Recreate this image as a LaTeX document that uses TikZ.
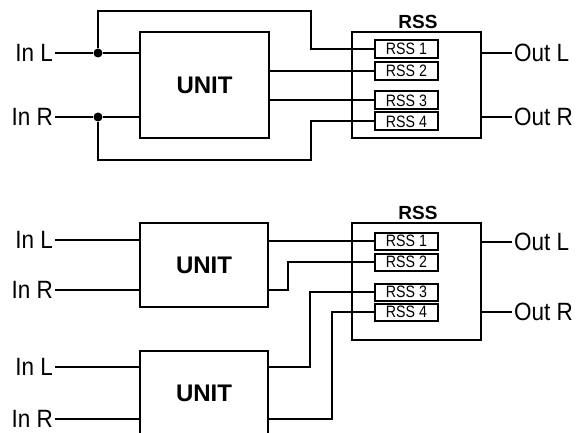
\documentclass[tikz,border=0pt]{standalone}
\usepackage{fontspec}
\setmainfont{Liberation Sans}
\begin{document}
\begin{tikzpicture}[x=1pt,y=-1pt,
  wire/.style={line width=2pt},
  unitbox/.style={draw,line width=2.6pt,rectangle,minimum width=128pt,inner sep=0pt,font=\bfseries\fontsize{24}{24}\selectfont},
  rssbox/.style={draw,line width=2.8pt,rectangle,minimum width=129pt,inner sep=0pt},
  subbox/.style={draw,line width=2pt,rectangle,minimum width=63pt,inner sep=0pt},
  inlbl/.style={anchor=east,inner sep=2pt},
  outlbl/.style={anchor=west,inner sep=2pt},
  rsslbl/.style={font=\bfseries\fontsize{19}{19}\selectfont,inner sep=0pt},
  dot/.style={circle,fill,inner sep=0pt,minimum size=9pt}]
\newcommand{\lbl}[1]{\scalebox{0.9}[1]{\fontsize{25}{25}\selectfont #1}}
\newcommand{\slbl}[1]{\scalebox{0.86}[1]{\fontsize{16.5}{16.5}\selectfont #1}}
\useasboundingbox (0,0) rectangle (578,433);
\clip (0,0) rectangle (578,433);

% ---------- top diagram ----------
\node[unitbox,minimum width=129pt,minimum height=106pt] (ua) at (204.5,85) {UNIT};
\node[rssbox,minimum height=106pt] (ra) at (416.5,85) {};
\node[rsslbl] (ralbl) at (418,22) {RSS};
\node[subbox,minimum height=18pt] (a1) at (406.5,49) {\slbl{RSS 1}};
\node[subbox,minimum height=18pt] (a2) at (406.5,71) {\slbl{RSS 2}};
\node[subbox,minimum height=18pt] (a3) at (406.5,100.5) {\slbl{RSS 3}};
\node[subbox,minimum height=18pt] (a4) at (406.5,121.5) {\slbl{RSS 4}};

\node[inlbl] (ail) at (55,53) {\lbl{In L}};
\node[inlbl] (air) at (55,117) {\lbl{In R}};
\node[dot] (dl) at (98,53) {};
\node[dot] (dr) at (98,117) {};
\coordinate (tl) at (98,11);
\coordinate (tr) at (311,11);
\coordinate (bl) at (98,160);
\coordinate (br) at (311,160);

\draw[wire] (ail.east) -- (dl) -- (ua.west |- dl);
\draw[wire] (air.east) -- (dr) -- (ua.west |- dr);
\draw[wire] (dl) -- (tl) -- (tr) -- (tr |- a1.west) -- (a1.west);
\draw[wire] (dr) -- (bl) -- (br) -- (br |- a4.west) -- (a4.west);
\draw[wire] (ua.east |- a2.west) -- (a2.west);
\draw[wire] (ua.east |- a3.west) -- (a3.west);

\node[outlbl] (aol) at (512,53) {\lbl{Out L}};
\node[outlbl] (aor) at (512,117) {\lbl{Out R}};
\draw[wire] (ra.east |- aol.west) -- (aol.west);
\draw[wire] (ra.east |- aor.west) -- (aor.west);

% ---------- bottom diagram ----------
\node[unitbox,minimum height=84pt] (ub) at (204,265) {UNIT};
\node[unitbox,minimum height=84pt] (uc) at (204,393) {UNIT};
\node[rssbox,minimum height=117pt] (rb) at (416.5,281.5) {};
\node[rsslbl] (rblbl) at (418,213) {RSS};
\node[subbox,minimum height=17pt] (b1) at (406.5,241) {\slbl{RSS 1}};
\node[subbox,minimum height=17pt] (b2) at (406.5,262) {\slbl{RSS 2}};
\node[subbox,minimum height=17pt] (b3) at (406.5,292) {\slbl{RSS 3}};
\node[subbox,minimum height=17pt] (b4) at (406.5,312) {\slbl{RSS 4}};

\node[inlbl] (bil) at (55,240) {\lbl{In L}};
\node[inlbl] (bir) at (55,290) {\lbl{In R}};
\node[inlbl] (cil) at (55,367) {\lbl{In L}};
\node[inlbl] (cir) at (55,419) {\lbl{In R}};
\draw[wire] (bil.east) -- (ub.west |- bil.east);
\draw[wire] (bir.east) -- (ub.west |- bir.east);
\draw[wire] (cil.east) -- (uc.west |- cil.east);
\draw[wire] (cir.east) -- (uc.west |- cir.east);

\coordinate (j2) at (288,290);
\coordinate (j3) at (310,367);
\coordinate (j4) at (332,419);
\draw[wire] (ub.east |- b1.west) -- (b1.west);
\draw[wire] (ub.east |- j2) -- (j2) -- (j2 |- b2.west) -- (b2.west);
\draw[wire] (uc.east |- j3) -- (j3) -- (j3 |- b3.west) -- (b3.west);
\draw[wire] (uc.east |- j4) -- (j4) -- (j4 |- b4.west) -- (b4.west);

\node[outlbl] (bol) at (512,242) {\lbl{Out L}};
\node[outlbl] (bor) at (512,312) {\lbl{Out R}};
\draw[wire] (rb.east |- bol.west) -- (bol.west);
\draw[wire] (rb.east |- bor.west) -- (bor.west);
\end{tikzpicture}
\end{document}
